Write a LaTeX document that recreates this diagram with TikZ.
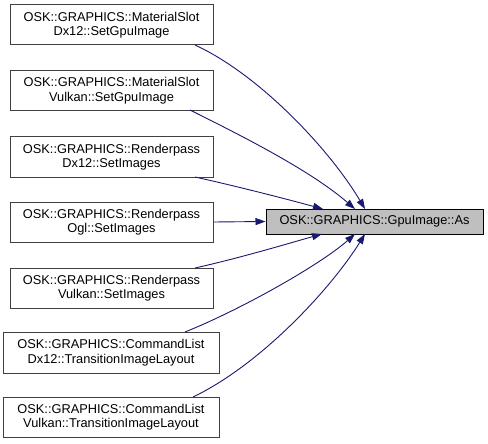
\documentclass[tikz,border=0pt]{standalone}
\usepackage{fontspec}
\setmainfont{Liberation Sans}
\usetikzlibrary{arrows.meta}
\definecolor{edgecol}{HTML}{191970}
\definecolor{boxborder}{HTML}{404040}
\definecolor{targetfill}{HTML}{BFBFBF}
\tikzset{
  srcbox/.style={draw=boxborder, line width=1pt, fill=white, inner sep=0pt, align=center, font=\fontsize{12.8}{14.5}\selectfont},
  tgtbox/.style={draw=black, line width=1pt, fill=targetfill, inner sep=0pt, align=center, font=\fontsize{12.8}{14.5}\selectfont},
  edge/.style={draw=edgecol, line width=0.9pt, -{Triangle[length=10pt,width=7pt]}}
}
\begin{document}
\begin{tikzpicture}[x=1pt,y=-1pt]
\useasboundingbox (0,0) rectangle (488,444);
\node[srcbox, minimum width=203pt, minimum height=40pt] (a) at (111.5,25) {OSK::GRAPHICS::MaterialSlot\\Dx12::SetGpuImage};
\node[srcbox, minimum width=203pt, minimum height=40pt] (b) at (111.5,90.5) {OSK::GRAPHICS::MaterialSlot\\Vulkan::SetGpuImage};
\node[srcbox, minimum width=203pt, minimum height=40pt] (c) at (111.5,157) {OSK::GRAPHICS::Renderpass\\Dx12::SetImages};
\node[srcbox, minimum width=203pt, minimum height=40pt] (d) at (111.5,222) {OSK::GRAPHICS::Renderpass\\Ogl::SetImages};
\node[srcbox, minimum width=203pt, minimum height=40pt] (e) at (111.5,288) {OSK::GRAPHICS::Renderpass\\Vulkan::SetImages};
\node[srcbox, minimum width=216pt, minimum height=41pt] (f) at (111,352.5) {OSK::GRAPHICS::CommandList\\Dx12::TransitionImageLayout};
\node[srcbox, minimum width=216pt, minimum height=40pt] (g) at (111,417) {OSK::GRAPHICS::CommandList\\Vulkan::TransitionImageLayout};
\node[tgtbox, minimum width=217pt, minimum height=25pt] (t) at (374.5,221.5) {OSK::GRAPHICS::GpuImage::As};

\coordinate (a1) at (195,45);
\coordinate (b1) at (190,110);
\coordinate (c1) at (195,177);
\coordinate (e1) at (195,268);
\coordinate (f1) at (185,332);
\coordinate (g1) at (193,397);
\coordinate (ta) at (365,209);
\coordinate (tb) at (355,209);
\coordinate (tc) at (323,209);
\coordinate (te) at (322,234);
\coordinate (tf) at (355,234);
\coordinate (tg) at (365,234);

\draw[edge] (a1) .. controls (260,75) and (330,150) .. (ta);
\draw[edge] (b1) .. controls (240,135) and (310,170) .. (tb);
\draw[edge] (c1) .. controls (240,187) and (290,200) .. (tc);
\draw[edge] (d.east) -- (t.west);
\draw[edge] (e1) .. controls (240,258) and (290,243) .. (te);
\draw[edge] (f1) .. controls (240,310) and (320,265) .. (tf);
\draw[edge] (g1) .. controls (260,365) and (330,290) .. (tg);
\end{tikzpicture}
\end{document}
